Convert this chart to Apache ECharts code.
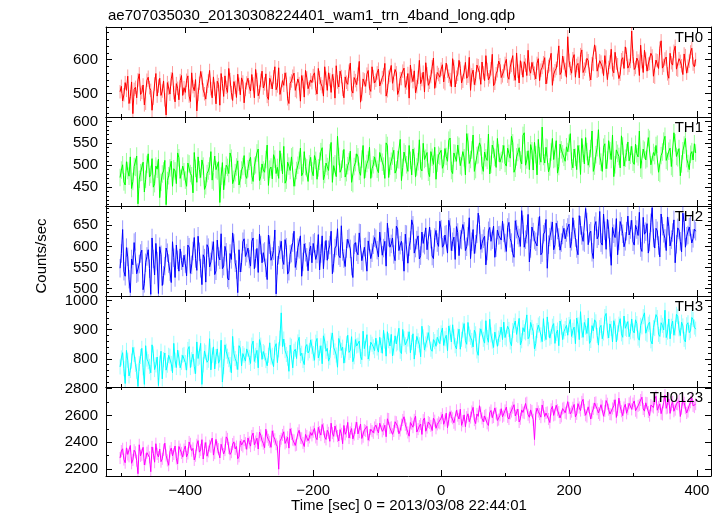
<!DOCTYPE html>
<html><head><meta charset="utf-8">
<script src="https://cdn.jsdelivr.net/npm/echarts@6/dist/echarts.min.js"></script>
<style>html,body{margin:0;padding:0;background:#fff}#c{width:724px;height:516px}</style>
</head><body><div id="c"></div>
<script>
const chartTitle = 'ae707035030_20130308224401_wam1_trn_4band_long.qdp';
const xAxisTitle = 'Time [sec] 0 = 2013/03/08 22:44:01';
const yAxisTitle = 'Counts/sec';
const seriesNames = ['TH0', 'TH1', 'TH2', 'TH3', 'TH0123'];
const seriesColors = ['#ff0000', '#00ff00', '#0000ff', '#00ffff', '#ff00ff'];
const timeStart = -502;
const timeStep = 2;
// typical 1-sigma error bar of each band (counts/sec), read off the light error-bar strokes
const seriesErrors = [20, 20, 22, 26, 45];

const th0 = [
505,521,478,496,532,509,551,470,490,534,440,512,518,487,540,558,497,503,525,466,471,539,548,517,509,450,486,528,559,492,522,545,494,507,537,481,436,532,516,498,543,561,502,475,529,515,481,538,553,494,
517,503,539,552,492,476,561,520,508,541,448,497,530,565,546,510,499,483,521,537,568,514,487,549,513,469,536,526,465,559,529,491,552,518,503,574,541,502,479,535,518,488,557,527,496,546,534,472,512,531,
545,519,507,556,528,487,571,541,493,504,539,566,516,528,558,491,482,545,533,513,549,579,511,522,576,497,498,538,524,561,542,484,470,530,537,551,560,509,505,543,529,477,553,535,489,568,546,514,519,540,
532,553,561,515,498,574,547,529,520,492,579,545,509,561,541,503,556,538,486,582,534,519,566,550,512,487,549,533,527,566,590,510,501,547,538,526,557,595,474,498,543,540,521,557,568,515,506,579,550,531,
539,561,572,522,517,547,555,589,492,508,548,553,583,530,526,571,561,497,509,544,544,566,575,518,531,559,486,584,552,535,567,502,520,548,598,529,541,563,504,591,558,524,533,550,579,605,515,537,562,556,
548,572,585,534,529,590,566,551,541,520,603,579,519,548,557,598,574,531,536,563,592,545,551,607,509,555,569,526,544,584,582,562,527,593,561,538,612,571,540,549,573,616,523,530,558,567,596,585,547,552,
566,589,601,551,542,578,583,612,557,539,620,566,531,597,575,548,594,584,553,628,572,560,592,574,560,543,589,603,538,569,577,591,606,528,549,580,585,619,524,557,567,574,598,641,556,563,611,590,571,548,
668,598,574,560,603,615,548,583,589,546,615,629,562,572,581,604,597,557,540,588,586,644,622,566,569,597,593,579,553,612,608,541,577,593,631,570,561,622,590,585,544,557,600,606,574,638,616,575,583,595,
685,610,571,577,605,596,553,643,594,562,628,602,566,587,589,619,611,551,548,599,597,574,634,656,575,583,602,608,558,545,619,591,584,625,640,572,569,603,595,582,556,617,612,560,581,596,623,634,587,579,
601];
const th1 = [
472,489,501,462,455,508,488,475,519,447,463,497,495,521,412,468,483,484,507,439,468,502,526,473,479,515,450,458,498,491,514,426,461,480,487,511,410,465,476,494,509,452,492,487,458,528,517,470,470,498,
485,466,452,505,503,481,476,437,529,493,461,519,490,472,512,498,445,453,481,487,498,531,466,462,521,490,487,508,415,475,506,444,474,500,495,481,528,516,458,468,483,496,510,455,469,489,497,522,477,470,
492,509,518,477,463,498,501,528,537,465,475,503,489,484,513,546,454,491,496,469,524,514,481,495,470,533,507,480,543,459,466,507,498,488,519,522,452,472,488,500,511,539,476,483,531,497,494,463,503,518,
487,476,522,511,468,494,509,531,540,467,479,505,497,488,528,552,461,499,503,474,566,520,484,491,514,536,473,483,499,508,532,461,458,497,506,526,519,486,477,514,545,470,491,504,512,541,470,492,501,519,
516,491,483,529,527,507,498,470,551,545,472,498,509,521,534,482,489,513,512,559,465,495,530,526,501,486,545,511,478,537,520,473,496,508,558,492,487,550,513,516,529,484,474,531,518,502,541,468,505,523,
520,534,493,502,538,520,509,557,562,488,481,528,527,509,546,543,499,496,531,517,478,572,553,504,513,535,569,486,490,522,524,551,542,499,486,530,517,511,571,480,502,546,536,518,495,561,528,507,511,526,
545,504,498,539,527,516,566,551,484,493,519,529,540,512,503,568,574,500,512,533,490,547,533,489,552,524,478,559,521,507,587,520,505,541,539,485,496,530,561,513,515,556,482,497,548,535,526,518,509,542,
531,550,572,509,494,537,518,490,545,526,479,561,527,503,563,531,500,515,538,578,486,498,524,540,581,521,507,486,541,549,492,512,556,533,513,569,474,501,535,527,520,494,567,544,498,516,529,553,510,523,
543,507,502,548,526,519,578,493,489,537,534,512,515,563,559,501,497,529,522,545,548,484,481,522,530,555,566,511,508,532,539,497,493,574,551,520,517,538,476,503,533,546,561,515,504,490,525,531,512,549,
528];
const th2 = [
548,583,640,541,529,597,575,522,490,570,556,609,612,535,538,558,583,591,497,512,561,576,592,547,486,620,570,532,607,565,488,599,580,507,531,553,596,585,559,540,514,611,573,526,603,568,541,594,566,551,
579,559,530,603,598,536,556,589,621,571,543,624,587,548,509,580,572,515,604,597,551,563,590,611,533,542,615,576,568,630,547,553,600,586,525,520,583,569,632,607,561,545,490,592,539,561,611,618,576,584,
596,570,553,612,620,547,571,595,538,629,603,561,585,588,549,521,627,604,567,576,590,639,487,555,579,592,612,568,557,616,598,534,541,581,584,609,636,550,566,597,593,625,529,563,606,586,574,542,588,601,
561,607,610,569,582,628,544,583,625,547,590,614,567,592,603,636,535,560,596,601,642,578,573,649,588,571,552,595,617,620,594,553,526,604,609,587,580,632,631,566,562,598,599,541,613,612,571,585,604,621,
618,591,575,634,637,579,596,612,553,655,622,598,606,620,581,566,648,641,590,603,612,587,541,629,628,560,599,614,663,650,584,596,615,625,570,578,634,607,603,644,592,589,646,617,577,571,621,638,609,600,
660,641,598,603,627,629,584,662,645,590,611,622,569,647,633,578,617,615,652,636,590,599,624,668,571,611,640,583,605,630,679,652,593,607,618,624,556,589,637,645,612,616,648,574,597,639,626,627,615,660,
632,608,588,645,657,619,609,583,574,661,641,627,620,600,685,652,598,616,629,676,563,595,646,634,615,611,601,648,671,580,585,629,634,664,548,604,622,637,658,592,604,655,639,621,591,609,627,643,618,633,
645,653,597,612,668,640,621,595,580,673,650,626,612,609,690,658,604,631,636,586,571,649,659,618,625,683,609,603,677,637,593,664,641,598,555,645,630,621,666,580,613,659,648,630,599,612,636,672,627,640,
662,611,603,650,640,626,681,597,588,669,629,635,654,584,610,656,692,620,596,643,637,602,575,677,648,631,619,590,670,648,601,616,633,663,561,605,644,639,612,587,679,657,598,624,627,646,650,608,619,641,
636];
const th3 = [
772,803,821,766,715,829,795,741,760,792,839,815,781,757,705,784,808,836,769,712,845,799,790,774,752,848,817,763,779,806,708,785,826,731,797,820,761,778,812,809,784,752,853,795,770,830,803,769,788,812,
815,787,761,832,842,770,797,816,774,749,858,801,806,853,712,779,827,822,788,795,869,762,812,841,765,808,834,785,796,864,720,773,848,826,809,797,780,752,877,818,801,789,763,845,836,776,818,812,792,834,
833,805,784,847,861,791,812,829,769,866,847,798,825,820,794,776,812,855,806,812,773,839,852,787,831,871,958,842,868,828,815,802,757,847,843,769,826,833,801,858,874,811,819,794,780,842,849,820,828,865,
842,818,795,857,870,803,819,845,783,879,861,826,836,792,804,864,889,839,827,813,771,870,853,829,840,785,812,852,881,822,829,876,790,807,866,844,847,861,808,797,895,835,834,883,799,819,857,850,841,828,
871,837,823,874,846,819,898,861,809,893,862,844,884,810,837,879,851,855,905,826,818,901,869,848,842,868,893,821,856,886,799,839,877,862,848,807,912,875,830,851,865,890,887,833,826,866,859,843,874,880,
852,889,906,846,869,881,828,913,891,858,917,876,845,834,878,902,833,867,899,921,862,850,925,885,874,863,841,898,886,827,812,879,903,909,867,854,931,873,857,936,882,861,839,892,897,843,871,884,909,866,
926,873,868,912,901,858,845,897,915,930,884,880,939,848,862,907,893,889,951,869,876,925,908,894,834,853,897,916,921,882,859,938,887,866,944,900,871,876,912,921,853,887,899,845,930,909,866,893,904,915,
881,918,935,877,898,909,852,940,917,866,962,898,874,925,909,887,940,853,863,914,896,934,927,880,847,907,915,869,889,945,956,896,872,920,904,858,931,912,858,889,919,938,886,874,947,905,901,928,876,893,
937,896,889,934,921,871,864,915,910,945,958,888,883,919,926,862,851,907,904,952,942,884,877,924,915,899,967,873,892,937,869,912,930,881,906,953,946,903,880,926,913,867,858,917,924,890,897,942,935,909,
902];
const th0123 = [
2282,2334,2351,2271,2247,2358,2309,2295,2376,2243,2268,2340,2325,2262,2165,2381,2298,2306,2362,2230,2273,2322,2336,2287,2180,2365,2317,2251,2389,2313,2290,2349,2255,2276,2343,2393,2301,2264,2228,2331,2356,2298,2312,2372,2279,2238,2368,2345,2320,2289,
2345,2372,2291,2316,2402,2388,2337,2354,2268,2299,2381,2412,2326,2343,2419,2275,2353,2398,2296,2331,2374,2366,2431,2304,2318,2421,2362,2349,2283,2385,2397,2312,2341,2440,2425,2357,2309,2326,2386,2403,2350,2368,2277,2295,2410,2379,2368,2416,2393,2347,
2432,2398,2371,2447,2468,2381,2405,2430,2349,2476,2451,2412,2390,2359,2497,2441,2418,2403,2362,2485,2443,2422,2385,2367,2199,2409,2426,2454,2478,2391,2401,2437,2356,2500,2462,2419,2414,2376,2381,2466,2489,2433,2429,2395,2368,2458,2447,2411,2436,2472,
2451,2478,2503,2436,2419,2511,2476,2453,2532,2497,2438,2421,2489,2470,2407,2542,2468,2444,2521,2486,2446,2409,2494,2463,2389,2525,2459,2480,2548,2431,2473,2502,2425,2457,2507,2549,2462,2475,2536,2428,2441,2491,2484,2518,2415,2452,2497,2483,2470,2510,
2528,2496,2469,2542,2556,2481,2497,2527,2441,2575,2573,2506,2512,2459,2484,2553,2549,2519,2463,2488,2531,2566,2590,2530,2502,2473,2445,2547,2538,2512,2567,2594,2476,2498,2520,2536,2458,2565,2581,2482,2509,2551,2543,2522,2487,2579,2561,2504,2533,2548,
2541,2580,2609,2534,2562,2617,2508,2569,2627,2591,2579,2545,2531,2638,2598,2573,2646,2526,2557,2604,2516,2587,2612,2553,2584,2629,2660,2565,2539,2611,2593,2672,2621,2578,2552,2596,2604,2541,2525,2620,2637,2583,2588,2656,2615,2562,2569,2601,2650,2590,
2598,2637,2662,2589,2573,2615,2629,2658,2680,2596,2604,2647,2551,2575,2641,2622,2617,2689,2695,2605,2586,2641,2633,2568,2420,2611,2654,2629,2610,2587,2678,2664,2592,2618,2623,2573,2547,2645,2668,2600,2606,2676,2639,2625,2581,2593,2651,2657,2620,2614,
2703,2655,2612,2628,2657,2682,2589,2612,2688,2659,2636,2701,2720,2640,2601,2591,2664,2675,2573,2622,2649,2693,2697,2646,2618,2604,2680,2668,2594,2633,2711,2687,2643,2610,2607,2652,2672,2717,2585,2639,2729,2664,2631,2598,2659,2683,2616,2647,2690,2702,
2645,2688,2708,2635,2621,2671,2679,2715,2736,2648,2632,2694,2691,2626,2598,2677,2667,2659,2724,2742,2639,2664,2686,2613,2607,2697,2752,2653,2658,2723,2615,2676,2701,2631,2643,2686,2683,2709,2592,2650,2719,2694,2654,2618,2629,2675,2698,2732,2671,2662,
2684];
const seriesValues = [th0, th1, th2, th3, th0123];

const xRange = [-524, 422];
const xMajorTicks = [-400, -200, 0, 200, 400];
const xMinorTicks = [-500, -300, -100, 100, 300];
const yRanges = [[430, 697], [407, 610], [482, 696], [703, 1016], [2148, 2812]];
const yMajorTicks = [[500, 600], [450, 500, 550, 600], [500, 550, 600, 650], [800, 900, 1000], [2200, 2400, 2600, 2800]];
const yMinorSteps = [20, 10, 10, 20, 100];

const FONT = "'Liberation Sans', Arial, Helvetica, sans-serif";
const panelTops = [27, 117, 206, 296, 387];
const panelHeights = [90, 89, 90, 91, 89];
const gridLeft = 106, gridRight = 13;

const grids = [], xAxes = [], yAxes = [], series = [], graphics = [];
const lineC = '#000';

for (let p = 0; p < 5; p++) {
  grids.push({left: gridLeft, right: gridRight, top: panelTops[p], height: panelHeights[p], containLabel: false});
  const xb = {gridIndex: p, type: 'value', min: xRange[0], max: xRange[1], splitLine: {show: false},
    axisLine: {show: false, onZero: false}, axisLabel: {show: false}};
  const lineOn = {show: true, onZero: false, lineStyle: {color: lineC, width: 1}};
  xAxes.push(Object.assign({}, xb, {position: 'bottom', axisLine: lineOn,
    axisTick: {show: true, inside: true, length: 6, customValues: xMajorTicks, lineStyle: {color: lineC}},
    axisLabel: {show: p === 4, customValues: xMajorTicks, color: '#000', fontSize: 15, fontFamily: FONT, margin: 7,
      formatter: v => (v < 0 ? '\u2212' + Math.abs(v) : String(v))}}));
  xAxes.push(Object.assign({}, xb, {position: 'bottom',
    axisTick: {show: true, inside: true, length: 3, customValues: xMinorTicks, lineStyle: {color: lineC}}}));
  xAxes.push(Object.assign({}, xb, {position: 'top', axisLine: lineOn,
    axisTick: {show: true, inside: true, length: 6, customValues: xMajorTicks, lineStyle: {color: lineC}}}));
  xAxes.push(Object.assign({}, xb, {position: 'top',
    axisTick: {show: true, inside: true, length: 3, customValues: xMinorTicks, lineStyle: {color: lineC}}}));

  const minorVals = [];
  const st = yMinorSteps[p];
  for (let v = Math.ceil(yRanges[p][0] / st) * st; v <= yRanges[p][1]; v += st) {
    if (yMajorTicks[p].indexOf(v) < 0) minorVals.push(v);
  }
  const yb = {gridIndex: p, type: 'value', min: yRanges[p][0], max: yRanges[p][1], splitLine: {show: false},
    axisLine: {show: false, onZero: false}, axisLabel: {show: false}};
  yAxes.push(Object.assign({}, yb, {position: 'left', axisLine: lineOn,
    axisTick: {show: true, inside: true, length: 6, customValues: yMajorTicks[p], lineStyle: {color: lineC}},
    axisLabel: {show: true, customValues: yMajorTicks[p], color: '#000', fontSize: 15, fontFamily: FONT, margin: 8,
      formatter: v => String(v)}}));
  yAxes.push(Object.assign({}, yb, {position: 'left',
    axisTick: {show: true, inside: true, length: 3, customValues: minorVals, lineStyle: {color: lineC}}}));
  yAxes.push(Object.assign({}, yb, {position: 'right', axisLine: lineOn,
    axisTick: {show: true, inside: true, length: 6, customValues: yMajorTicks[p], lineStyle: {color: lineC}}}));
  yAxes.push(Object.assign({}, yb, {position: 'right',
    axisTick: {show: true, inside: true, length: 3, customValues: minorVals, lineStyle: {color: lineC}}}));

  const vals = seriesValues[p];
  const err = seriesErrors[p];
  const color = seriesColors[p];
  const data = [], errData = [];
  for (let i = 0; i < vals.length; i++) {
    const t = timeStart + i * timeStep;
    data.push([t, vals[i]]);
    errData.push([t, vals[i] - err, vals[i] + err]);
  }
  series.push({
    type: 'custom', xAxisIndex: p * 4, yAxisIndex: p * 4, data: errData, silent: true, clip: true, z: 1,
    encode: {x: 0, y: [1, 2]},
    renderItem: function (params, api) {
      const a = api.coord([api.value(0), api.value(1)]);
      const b = api.coord([api.value(0), api.value(2)]);
      return {type: 'line', shape: {x1: a[0], y1: a[1], x2: b[0], y2: b[1]},
        style: {stroke: color, lineWidth: 1, opacity: 0.4}};
    }
  });
  series.push({
    name: seriesNames[p], type: 'line', xAxisIndex: p * 4, yAxisIndex: p * 4,
    data: data, showSymbol: false, symbol: 'none', clip: true,
    lineStyle: {color: color, width: 1}, itemStyle: {color: color},
    z: 2
  });

  graphics.push({type: 'text', x: 703, y: panelTops[p] + 11, z: 10,
    style: {text: seriesNames[p], fill: '#000', font: '15px ' + FONT, align: 'right', verticalAlign: 'middle'}});
}

graphics.push({type: 'text', x: 108, y: 16,
  style: {text: chartTitle, fill: '#000', font: '15px ' + FONT, align: 'left', verticalAlign: 'middle'}});
graphics.push({type: 'text', x: 409, y: 506,
  style: {text: xAxisTitle, fill: '#000', font: '15px ' + FONT, align: 'center', verticalAlign: 'middle'}});
graphics.push({type: 'text', x: 42, y: 256, rotation: Math.PI / 2,
  style: {text: yAxisTitle, fill: '#000', font: '15px ' + FONT, align: 'center', verticalAlign: 'middle'}});

const chart = echarts.init(document.getElementById('c'), null, {renderer: 'canvas'});
chart.setOption({
  animation: false,
  backgroundColor: '#fff',
  grid: grids, xAxis: xAxes, yAxis: yAxes, series: series,
  graphic: graphics
});
</script></body></html>
